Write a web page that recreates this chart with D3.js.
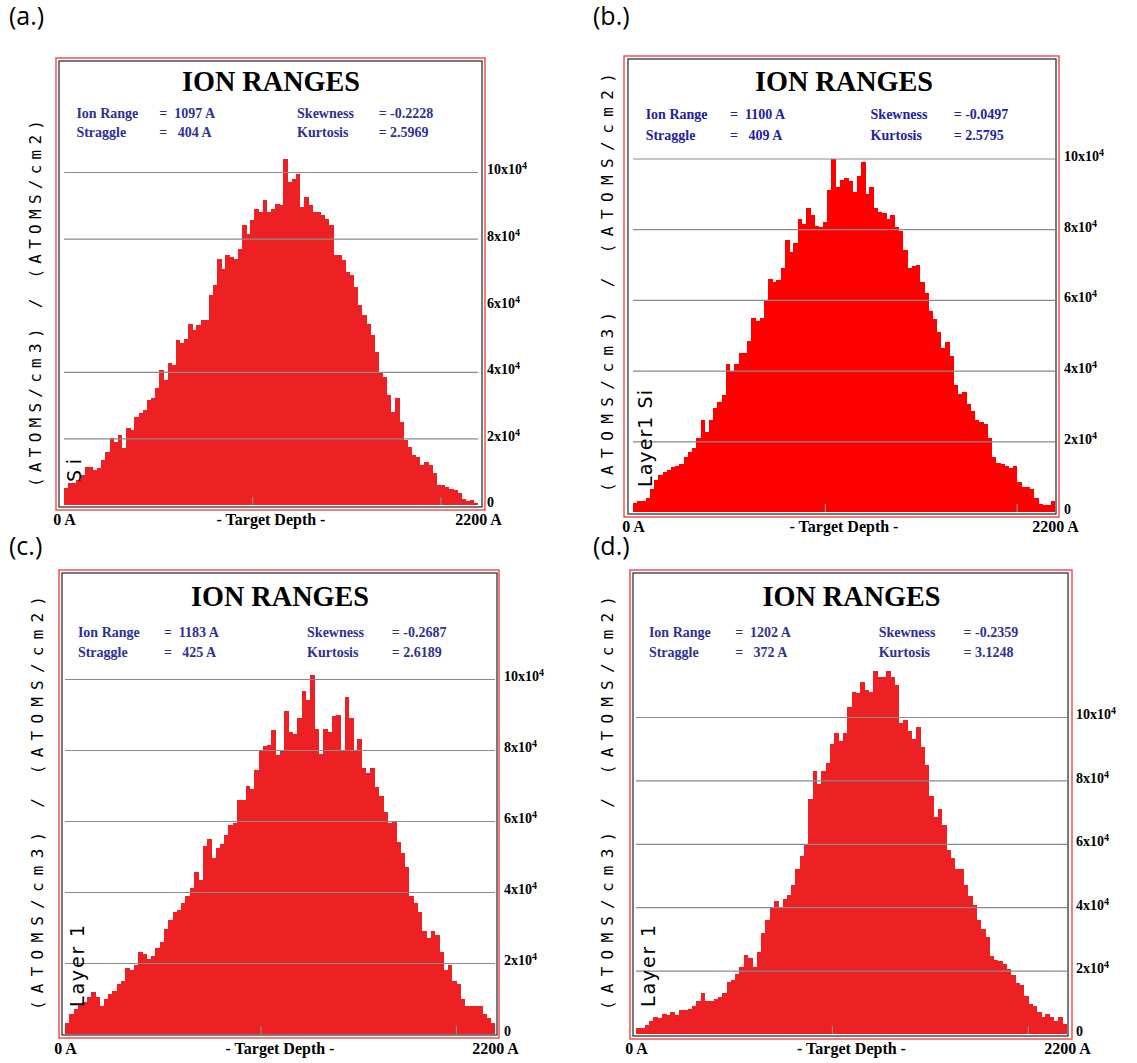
<!DOCTYPE html>
<html>
<head>
<meta charset="utf-8">
<script src="https://cdn.jsdelivr.net/npm/d3@7"></script>
<style>
  body { margin: 0; background: #fff; }
  svg text { white-space: pre; }
</style>
</head>
<body>
<script>
// ion range histograms, 100 depth bins of 22 A, counts in units of 10^4
var countsA = [0.5,0.65,0.65,0.75,0.9,1.15,1.15,1.05,1.1,1.35, 1.6,2.0,1.9,2.1,1.7,2.3,2.25,2.65,2.75,2.85,
  3.15,3.2,3.5,4.05,3.75,4.25,4.2,4.95,4.85,5.0, 5.45,5.25,5.4,5.55,5.55,6.3,6.6,7.4,7.1,7.5,
  7.45,7.4,7.7,8.4,8.15,8.55,8.9,8.8,9.15,8.8, 8.9,9.05,9.0,10.4,9.7,9.8,9.95,8.95,9.25,9.0,
  8.8,8.8,8.7,8.6,8.4,7.5,7.5,7.35,7.0,6.9, 6.55,6.0,5.7,5.45,5.1,4.6,3.95,3.85,3.3,2.8,
  3.2,2.5,1.95,1.75,1.5,1.45,1.2,1.3,1.2,0.95, 0.6,0.6,0.55,0.48,0.45,0.35,0.18,0.12,0.15,0.07];
var countsB = [0.25,0.32,0.32,0.4,0.65,0.9,1.05,1.14,1.18,1.28, 1.3,1.35,1.55,1.7,1.8,2.1,2.6,2.25,2.6,2.95,
  3.1,3.3,4.2,4.0,4.2,4.5,4.5,4.85,5.5,5.4, 5.5,6.0,6.6,6.5,6.55,6.9,7.7,7.35,7.6,8.3,
  8.15,8.6,8.4,8.1,8.05,8.2,9.1,10.0,9.2,9.4, 9.45,9.35,9.05,9.5,9.9,9.0,9.2,8.6,8.5,8.45,
  8.3,8.4,8.05,7.95,7.4,6.9,6.95,7.0,6.5,6.2, 5.7,5.45,5.1,4.65,4.8,4.4,3.6,3.35,3.4,3.05,
  2.85,2.6,2.55,2.5,2.1,1.55,1.4,1.35,1.3,1.25, 1.3,0.85,0.7,0.7,0.65,0.4,0.22,0.2,0.2,0.3];
var countsC = [0.3,0.55,0.7,0.82,0.9,1.05,1.18,1.05,0.8,1.0, 1.12,1.2,1.4,1.5,1.85,1.8,1.95,2.3,2.25,2.12,
  2.2,2.42,2.6,2.95,3.2,3.45,3.5,3.7,3.9,4.1, 4.55,4.35,5.3,5.5,4.95,5.23,5.35,5.6,5.9,5.95,
  6.6,6.6,7.0,6.9,7.45,8.0,8.1,8.15,8.55,7.85, 8.0,9.1,8.5,8.45,8.9,9.65,9.4,10.1,8.6,7.9,
  8.6,8.5,8.95,9.0,8.0,9.5,8.9,8.0,8.3,7.5, 7.35,7.5,6.95,6.7,6.25,5.95,6.0,5.4,5.1,4.7,
  3.9,3.7,3.45,2.9,2.7,2.9,2.8,2.3,1.8,1.95, 1.5,1.4,1.0,0.8,0.8,0.8,0.8,0.55,0.45,0.3];
var countsD = [0.18,0.18,0.27,0.42,0.55,0.5,0.62,0.6,0.68,0.6, 0.76,0.76,0.78,0.88,1.05,1.3,1.05,1.05,1.1,1.18,
  1.3,1.65,1.7,1.9,2.1,2.48,2.4,2.1,2.6,3.2, 3.6,4.0,4.2,4.0,4.25,4.4,4.7,5.2,5.6,6.0,
  7.4,8.3,7.9,8.3,8.55,9.15,9.5,9.25,9.5,10.3, 10.8,10.75,11.1,10.85,10.8,11.45,11.25,11.25,11.45,11.25,
  11.0,9.8,9.9,9.55,9.3,9.7,9.05,8.5,7.5,6.85, 7.1,6.6,5.8,5.55,5.2,5.2,4.7,4.35,4.06,3.6,
  3.3,3.05,2.45,2.35,2.3,2.2,2.06,1.85,1.62,1.55, 1.2,0.95,0.88,0.7,0.53,0.62,0.55,0.42,0.55,0.3];

var depthMax = 2200;
var binWidth = 22;
var yTicks = [0, 2, 4, 6, 8, 10];
var gridA = [2, 4, 8, 10];      // (a) has no line at 6
var gridRest = [2, 4, 6, 8, 10];
var depthTicks = [1000, 2000];

var panelNames = ["(a.)", "(b.)", "(c.)", "(d.)"];
var ionRange = ["1097", "1100", "1183", "1202"];
var straggle = ["404", "409", "425", "372"];
var skewness = ["-0.2228", "-0.0497", "-0.2687", "-0.2359"];
var kurtosis = ["2.5969", "2.5795", "2.6189", "3.1248"];
var layerNames = ["Si", "Layer1 Si", "Layer 1", "Layer 1"];

var W = 1137, H = 1063;
var serif = "'Liberation Serif', 'Times New Roman', serif";

// layout per panel (pixels)
var panels = [
  {counts: countsA, grid: gridA, fill: "#ed2024", ink: "#2e3192",
   red: [56, 58, 485, 510], black: [59, 61, 482, 507], px: [64, 478], py: [505, 172],
   lab: [9, 25], yt: [35, 120, 487], layer: [74, 459, 482], tY: 91, r1: 118, r2: 137},
  {counts: countsB, grid: gridRest, fill: "#ff0000", ink: "#2222a0",
   red: [624, 56, 1059, 517], black: [628, 59, 1056, 514], px: [633, 1055], py: [512, 158.5],
   lab: [593, 25], yt: [607, 73, 492], layer: [645, 390, 487], tY: 91, r1: 119, r2: 140},
  {counts: countsC, grid: gridRest, fill: "#ed2024", ink: "#2e3192",
   red: [59, 570, 499, 1038], black: [62, 573, 497, 1035], px: [65, 495], py: [1034, 679],
   lab: [9, 555], yt: [37, 596, 1010], layer: [77, 925, 1007], tY: 606, r1: 637, r2: 657},
  {counts: countsD, grid: gridRest, fill: "#ed2024", ink: "#2e3192",
   red: [630, 570, 1072, 1039], black: [633, 573, 1068, 1036], px: [636, 1067], py: [1034, 717],
   lab: [593, 555], yt: [607, 596, 1010], layer: [648, 925, 1007], tY: 606, r1: 637, r2: 657}
];

var svg = d3.select("body").append("svg")
  .attr("width", W)
  .attr("height", H)
  .style("font-family", serif);

panels.forEach(function(p, k) {
  var g = svg.append("g");
  var x = d3.scaleLinear().domain([0, depthMax]).range(p.px);
  var y = d3.scaleLinear().domain([0, 10]).range(p.py);
  var pw = p.px[1] - p.px[0];

  // panel letter
  g.append("text")
    .attr("x", p.lab[0]).attr("y", p.lab[1])
    .style("font-family", "'Open Sans', 'Noto Sans', sans-serif")
    .style("font-size", "25px")
    .text(panelNames[k]);

  // frames
  g.append("rect")
    .attr("x", p.red[0]).attr("y", p.red[1])
    .attr("width", p.red[2] - p.red[0]).attr("height", p.red[3] - p.red[1])
    .attr("fill", "none").attr("stroke", "#ee4548").attr("stroke-width", 1.4);
  g.append("rect")
    .attr("x", p.black[0]).attr("y", p.black[1])
    .attr("width", p.black[2] - p.black[0]).attr("height", p.black[3] - p.black[1])
    .attr("fill", "none").attr("stroke", "#222").attr("stroke-width", 1.2);

  // bars
  g.selectAll("rect.bar")
    .data(p.counts)
    .enter()
    .append("rect")
    .attr("class", "bar")
    .attr("x", function(d, i) { return x(i * binWidth); })
    .attr("width", function(d, i) { return x((i + 1) * binWidth) - x(i * binWidth) + 0.4; })
    .attr("y", function(d) { return y(d); })
    .attr("height", function(d) { return y(0) - y(d); })
    .attr("fill", p.fill)
    .attr("shape-rendering", "crispEdges");

  // horizontal grid over the bars
  var grid = g.append("g")
    .attr("transform", "translate(" + p.px[0] + ",0)")
    .call(d3.axisLeft(y).tickValues(p.grid).tickSize(-pw).tickFormat(""));
  grid.select(".domain").remove();
  grid.selectAll("text").remove();
  grid.selectAll("line").attr("stroke", "#8a8a8a").attr("stroke-width", 1.2);

  // small depth ticks at 1000 and 2000 A
  var dt = g.append("g")
    .attr("transform", "translate(0," + p.py[0] + ")")
    .call(d3.axisBottom(x).tickValues(depthTicks).tickSize(-8).tickFormat(""));
  dt.select(".domain").remove();
  dt.selectAll("text").remove();
  dt.selectAll("line").attr("stroke", "#8a8a8a").attr("stroke-width", 1.2);

  // right axis labels  Nx10^4
  var ya = g.append("g")
    .attr("transform", "translate(" + p.px[1] + ",0)")
    .call(d3.axisRight(y).tickValues(yTicks).tickSize(0).tickPadding(9));
  ya.select(".domain").remove();
  ya.selectAll("text")
    .attr("dy", "0.14em")
    .attr("fill", "#000")
    .style("font-family", serif)
    .style("font-size", "14px")
    .style("font-weight", "bold")
    .each(function(d) {
      var t = d3.select(this).text(null);
      if (d === 0) { t.append("tspan").text("0"); return; }
      t.append("tspan").text(d + "x10");
      t.append("tspan").attr("dy", "-0.5em").style("font-size", "10px").text("4");
    });

  // bottom labels
  var xa = g.append("g")
    .attr("transform", "translate(0," + p.py[0] + ")")
    .call(d3.axisBottom(x).tickValues([0, depthMax]).tickSize(0).tickPadding(9)
      .tickFormat(function(d) { return d + " A"; }));
  xa.select(".domain").remove();
  xa.selectAll("text")
    .attr("fill", "#000")
    .style("font-family", serif)
    .style("font-size", "16px")
    .style("font-weight", "bold");
  g.append("text")
    .attr("x", (p.px[0] + p.px[1]) / 2)
    .attr("y", p.py[0] + 9)
    .attr("dy", "0.71em")
    .attr("text-anchor", "middle")
    .style("font-size", "16px")
    .style("font-weight", "bold")
    .text("- Target Depth -");

  // title + stats
  g.append("text")
    .attr("x", (p.px[0] + p.px[1]) / 2)
    .attr("y", p.tY)
    .attr("text-anchor", "middle")
    .style("font-size", "30px")
    .style("font-weight", "bold")
    .attr("textLength", 178)
    .attr("lengthAdjust", "spacingAndGlyphs")
    .text("ION RANGES");

  var rows = [
    [p.r1, "Ion Range", "=  " + ionRange[k] + " A", "Skewness", "= " + skewness[k]],
    [p.r2, "Straggle", "=   " + straggle[k] + " A", "Kurtosis", "= " + kurtosis[k]]
  ];
  var cols = [0.03, 0.23, 0.563, 0.76];
  rows.forEach(function(r) {
    for (var c = 0; c < 4; c++) {
      g.append("text")
        .attr("x", p.px[0] + cols[c] * pw)
        .attr("y", r[0])
        .attr("fill", p.ink)
        .style("font-size", "14px")
        .style("font-weight", "bold")
        .text(r[c + 1]);
    }
  });

  // y title, rotated
  g.append("text")
    .attr("transform", "translate(" + p.yt[0] + "," + (p.yt[1] + p.yt[2]) / 2 + ") rotate(-90)")
    .attr("text-anchor", "middle")
    .attr("dominant-baseline", "central")
    .style("font-family", "'DejaVu Sans Mono', monospace")
    .style("font-size", "16px")
    .attr("textLength", p.yt[2] - p.yt[1])
    .attr("lengthAdjust", "spacing")
    .text("(ATOMS/cm3) / (ATOMS/cm2)");

  // layer label inside plot
  g.append("text")
    .attr("transform", "translate(" + p.layer[0] + "," + (p.layer[1] + p.layer[2]) / 2 + ") rotate(-90)")
    .attr("text-anchor", "middle")
    .attr("dominant-baseline", "central")
    .style("font-family", "'DejaVu Sans', sans-serif")
    .style("font-size", "19px")
    .attr("textLength", p.layer[2] - p.layer[1])
    .attr("lengthAdjust", "spacing")
    .text(layerNames[k]);
});
</script>
</body>
</html>
